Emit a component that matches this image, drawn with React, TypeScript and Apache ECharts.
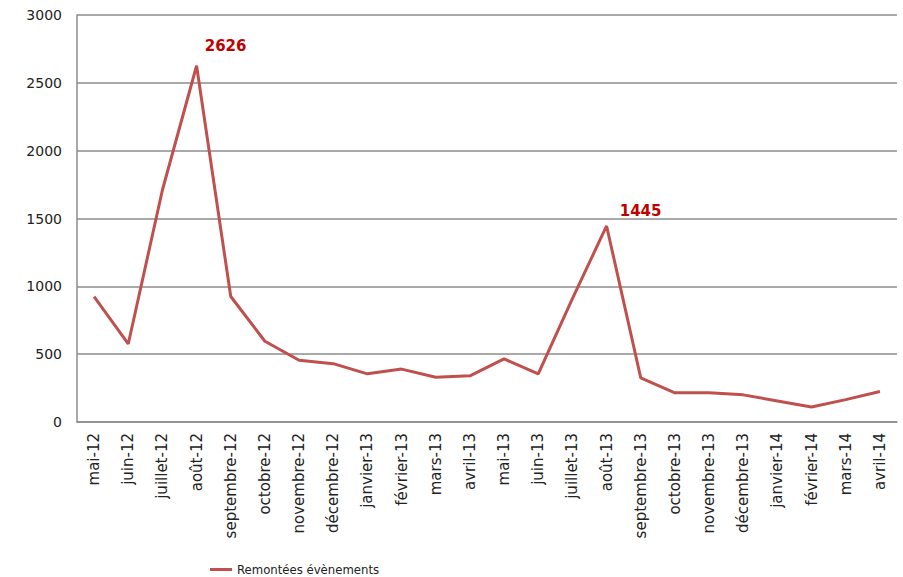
import React, { useEffect, useRef } from "react";
import * as echarts from "echarts";

const categories = [
  "mai-12", "juin-12", "juillet-12", "août-12", "septembre-12", "octobre-12",
  "novembre-12", "décembre-12", "janvier-13", "février-13", "mars-13", "avril-13",
  "mai-13", "juin-13", "juillet-13", "août-13", "septembre-13", "octobre-13",
  "novembre-13", "décembre-13", "janvier-14", "février-14", "mars-14", "avril-14",
];

const remontees = [
  925, 575, 1710, 2626, 925, 595, 455, 430, 355, 390, 330, 340,
  465, 355, 910, 1445, 325, 215, 215, 200, 155, 110, 165, 225,
];

const labelledPoints = [
  { index: 3, offset: [29, -7] },
  { index: 15, offset: [34, -2] },
];

const seriesName = "Remontées évènements";

export default function App() {
  const ref = useRef<HTMLDivElement>(null);

  useEffect(() => {
    if (!ref.current) return;
    const chart = echarts.init(ref.current, null, { renderer: "svg" });
    const data = remontees.map((v, i) => {
      const lp = labelledPoints.find((p) => p.index === i);
      if (!lp) return { value: v, label: { show: false } };
      return {
        value: v,
        label: {
          show: true,
          position: "top",
          offset: lp.offset,
          color: "#c00000",
          fontWeight: "bold",
          fontSize: 15,
          fontFamily: "DejaVu Sans",
        },
      };
    });
    chart.setOption({
      animation: false,
      backgroundColor: "#ffffff",
      grid: { left: 77, right: 6, top: 15, bottom: 155, containLabel: false },
      xAxis: {
        type: "category",
        data: categories,
        boundaryGap: true,
        axisLine: { show: true, lineStyle: { color: "#8c8c8c", width: 1.5 } },
        axisTick: { show: false },
        axisLabel: {
          rotate: 90,
          interval: 0,
          margin: 11,
          color: "#222",
          fontSize: 15,
          fontFamily: "DejaVu Sans",
        },
      },
      yAxis: {
        type: "value",
        min: 0,
        max: 3000,
        interval: 500,
        axisLine: { show: true, lineStyle: { color: "#8c8c8c", width: 1.5 } },
        axisTick: { show: false },
        splitLine: { show: true, lineStyle: { color: "#8c8c8c", width: 1.5 } },
        axisLabel: {
          margin: 15,
          color: "#222",
          fontSize: 14,
          fontFamily: "DejaVu Sans",
          formatter: (v: number) => String(v),
        },
      },
      legend: {
        show: true,
        left: 205,
        top: 558,
        itemWidth: 22,
        itemHeight: 3,
        itemGap: 3,
        icon: "rect",
        data: [{ name: seriesName, itemStyle: { color: "#c0504d", opacity: 1 } }],
        textStyle: {
          color: "#222",
          fontSize: 13,
          fontFamily: "DejaVu Sans Condensed, Liberation Sans",
        },
      },
      series: [
        {
          name: seriesName,
          type: "line",
          data,
          showSymbol: true,
          symbol: "circle",
          symbolSize: 0.1,
          itemStyle: { color: "#c0504d" },
          color: "#c0504d",
          lineStyle: { color: "#c0504d", width: 3 },
          label: { show: false },
        },
      ],
    });
    return () => chart.dispose();
  }, []);

  return (
    <div
      ref={ref}
      style={{ position: "fixed", left: 0, top: 0, width: 903, height: 577 }}
    />
  );
}
